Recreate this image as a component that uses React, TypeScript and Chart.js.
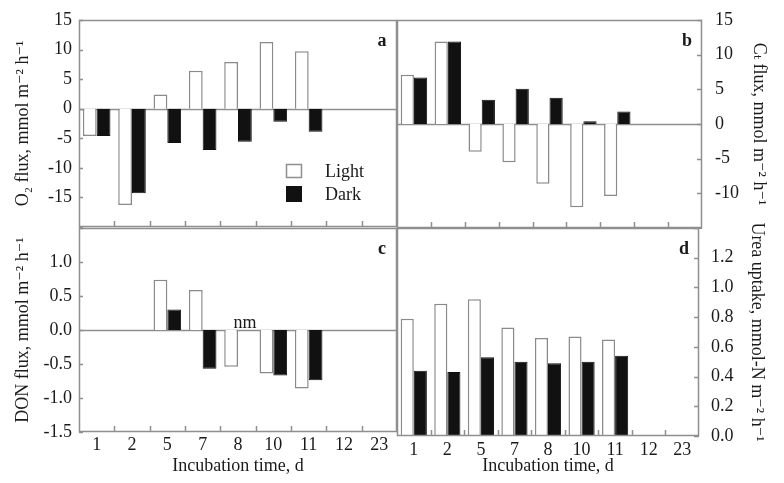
import React, { useEffect, useRef } from 'react';
import { Chart, registerables } from 'chart.js';

Chart.register(...registerables);

// ---- data ----
const days = ['1', '2', '5', '7', '8', '10', '11', '12', '23'];

const o2Light = [-4.6, -16.3, 2.4, 6.4, 7.9, 11.3, 9.7, null, null];
const o2Dark = [-4.6, -14.3, -5.8, -7.0, -5.6, -2.2, -3.9, null, null];

const ctLight = [7.1, 11.9, -4.0, -5.5, -8.6, -12.0, -10.4, null, null];
const ctDark = [6.7, 11.9, 3.5, 5.1, 3.8, 0.4, 1.8, null, null];

const donLight = [null, null, 0.74, 0.59, -0.54, -0.64, -0.86, null, null];
const donDark = [null, null, 0.3, -0.57, null, -0.67, -0.74, null, null];

const ureaLight = [0.79, 0.89, 0.92, 0.73, 0.66, 0.67, 0.65, null, null];
const ureaDark = [0.44, 0.43, 0.53, 0.5, 0.49, 0.5, 0.54, null, null];

const seriesNames = ['Light', 'Dark'];
const xTitle = 'Incubation time, d';

const FONT = "'Liberation Serif', 'DejaVu Serif', serif";
const LINE = '#8f8f8f';
const INK = '#1a1a1a';

type PanelProps = {
  box: { left: number; top: number; width: number; height: number };
  pad: { left: number; right: number; top: number; bottom: number };
  yPos: 'left' | 'right';
  yWidth: number;
  xHeight: number;
  showX: boolean;
  xPad: number;
  light: (number | null)[];
  dark: (number | null)[];
  yMin: number;
  yMax: number;
  yStep: number;
  hidden: number[];
  decimals: number;
  yTitle: string;
  yTitlePad: number;
  tickPad: number;
  letter: string;
  legend?: boolean;
  nmIndex?: number;
};

function Panel(p: PanelProps) {
  const ref = useRef<HTMLCanvasElement | null>(null);
  useEffect(() => {
    if (!ref.current) return;
    const overlay = {
      id: 'overlay',
      beforeDatasetsDraw(chart: any) {
        const { ctx, chartArea: a } = chart;
        const y = chart.scales.y;
        if (p.yMin < 0) {
          const zy = Math.round(y.getPixelForValue(0)) + 0.5;
          ctx.save();
          ctx.strokeStyle = LINE;
          ctx.lineWidth = 1.3;
          ctx.beginPath();
          ctx.moveTo(a.left, zy);
          ctx.lineTo(a.right, zy);
          ctx.stroke();
          ctx.restore();
        }
      },
      afterDraw(chart: any) {
        const { ctx, chartArea: a } = chart;
        const x = chart.scales.x;
        const y = chart.scales.y;
        ctx.save();
        ctx.strokeStyle = LINE;
        ctx.lineWidth = 1.5;
        ctx.strokeRect(a.left + 0.5, a.top + 0.5, a.right - a.left - 1, a.bottom - a.top - 1);
        // inner x ticks at category boundaries
        ctx.beginPath();
        for (let i = 0; i < days.length - 1; i++) {
          const bx = Math.round((x.getPixelForValue(i) + x.getPixelForValue(i + 1)) / 2) + 0.5;
          ctx.moveTo(bx, a.bottom);
          ctx.lineTo(bx, a.bottom - 6);
        }
        // inner y ticks
        y.ticks.forEach((t: any) => {
          const ty = Math.round(y.getPixelForValue(t.value)) + 0.5;
          if (p.yPos === 'left') {
            ctx.moveTo(a.left, ty);
            ctx.lineTo(a.left + 4, ty);
          } else {
            ctx.moveTo(a.right, ty);
            ctx.lineTo(a.right - 5, ty);
          }
        });
        ctx.stroke();
        // panel letter
        ctx.fillStyle = INK;
        ctx.font = `bold 18px ${FONT}`;
        ctx.textAlign = 'center';
        ctx.textBaseline = 'middle';
        ctx.fillText(p.letter, a.right - 15, a.top + 21);
        // legend
        if (p.legend) {
          const lx = a.left + 207;
          ctx.lineWidth = 1.5;
          ctx.fillStyle = '#fff';
          ctx.fillRect(lx, a.top + 144, 16, 14);
          ctx.strokeStyle = LINE;
          ctx.strokeRect(lx + 0.5, a.top + 144.5, 15, 13);
          ctx.fillStyle = '#111';
          ctx.fillRect(lx, a.top + 166, 16, 16);
          ctx.fillStyle = INK;
          ctx.font = `18px ${FONT}`;
          ctx.textAlign = 'left';
          ctx.fillText(seriesNames[0], lx + 39, a.top + 152);
          ctx.fillText(seriesNames[1], lx + 39, a.top + 175);
        }
        // not measured marker
        if (p.nmIndex !== undefined) {
          const cw = x.width / days.length;
          const nx = x.getPixelForValue(p.nmIndex) + cw * 0.78 / 4;
          ctx.fillStyle = INK;
          ctx.font = `18px ${FONT}`;
          ctx.textAlign = 'center';
          ctx.textBaseline = 'middle';
          ctx.fillText('nm', nx, y.getPixelForValue(0) - 7);
        }
        ctx.restore();
      },
    };

    const fmt = (v: number) => {
      if (p.hidden.some((h) => Math.abs(h - v) < 1e-6)) return '';
      return (Math.abs(v) < 1e-9 ? 0 : v).toFixed(p.decimals);
    };

    const chart = new Chart(ref.current, {
      type: 'bar',
      data: {
        labels: days,
        datasets: [
          {
            label: seriesNames[0],
            data: p.light,
            backgroundColor: '#ffffff',
            borderColor: '#8a8a8a',
            borderWidth: 1.5,
            categoryPercentage: 0.78,
            barPercentage: 1.0,
          },
          {
            label: seriesNames[1],
            data: p.dark,
            backgroundColor: '#111111',
            borderColor: '#111111',
            borderWidth: 1,
            categoryPercentage: 0.78,
            barPercentage: 1.0,
          },
        ],
      },
      options: {
        responsive: false,
        animation: false,
        devicePixelRatio: 1,
        events: [],
        layout: { padding: p.pad },
        plugins: {
          legend: { display: false },
          tooltip: { enabled: false },
          title: { display: false },
        },
        scales: {
          x: {
            type: 'category',
            display: p.showX,
            offset: true,
            grid: { display: false, drawTicks: false },
            border: { display: false },
            ticks: {
              autoSkip: false,
              maxRotation: 0,
              padding: p.xPad,
              color: INK,
              font: { family: FONT, size: 18 },
            },
            title: {
              display: p.showX,
              text: xTitle,
              color: INK,
              font: { family: FONT, size: 18 },
              padding: { top: 0, bottom: 6 },
            },
            afterFit: (s: any) => {
              s.height = p.xHeight;
              s.paddingLeft = 0;
              s.paddingRight = 0;
              s.paddingTop = 0;
              s.paddingBottom = 0;
            },
          },
          y: {
            position: p.yPos,
            min: p.yMin,
            max: p.yMax,
            grid: { display: false, drawTicks: false },
            border: { display: false },
            ticks: {
              stepSize: p.yStep,
              padding: p.tickPad,
              color: INK,
              font: { family: FONT, size: 18 },
              callback: (v: any) => fmt(Number(v)),
            },
            title: {
              display: true,
              text: p.yTitle,
              color: INK,
              font: { family: FONT, size: 18 },
              padding: { top: p.yTitlePad, bottom: 0 },
            },
            afterFit: (s: any) => {
              s.width = p.yWidth;
              s.paddingTop = 0;
              s.paddingBottom = 0;
              s.paddingLeft = 0;
              s.paddingRight = 0;
            },
          },
        },
      },
      plugins: [overlay],
    } as any);
    return () => chart.destroy();
  }, []);

  return (
    <canvas
      ref={ref}
      width={p.box.width}
      height={p.box.height}
      style={{
        position: 'absolute',
        left: p.box.left,
        top: p.box.top,
        width: p.box.width,
        height: p.box.height,
      }}
    />
  );
}

export default function App() {
  return (
    <div
      style={{
        position: 'absolute',
        left: 0,
        top: 0,
        width: 784,
        height: 483,
        background: '#ffffff',
        overflow: 'hidden',
      }}
    >
      <Panel
        box={{ left: 0, top: 0, width: 398, height: 228 }}
        pad={{ left: 0, right: 1, top: 20, bottom: 1 }}
        yPos="left"
        yWidth={79}
        xHeight={0}
        showX={false}
        xPad={2}
        light={o2Light}
        dark={o2Dark}
        yMin={-20}
        yMax={15}
        yStep={5}
        hidden={[-20]}
        decimals={0}
        yTitle="O₂ flux, mmol m⁻² h⁻¹"
        yTitlePad={12}
        tickPad={7}
        letter="a"
        legend
      />
      <Panel
        box={{ left: 396, top: 0, width: 388, height: 229 }}
        pad={{ left: 1, right: 0, top: 20, bottom: 1 }}
        yPos="right"
        yWidth={82}
        xHeight={0}
        showX={false}
        xPad={2}
        light={ctLight}
        dark={ctDark}
        yMin={-15}
        yMax={15}
        yStep={5}
        hidden={[-15]}
        decimals={0}
        yTitle="Cₜ flux, mmol m⁻² h⁻¹"
        yTitlePad={14}
        tickPad={13}
        letter="b"
      />
      <Panel
        box={{ left: 0, top: 227, width: 398, height: 256 }}
        pad={{ left: 0, right: 1, top: 1, bottom: 0 }}
        yPos="left"
        yWidth={79}
        xHeight={51}
        showX={true}
        xPad={2}
        light={donLight}
        dark={donDark}
        yMin={-1.5}
        yMax={1.5}
        yStep={0.5}
        hidden={[1.5]}
        decimals={1}
        yTitle="DON flux, mmol m⁻² h⁻¹"
        yTitlePad={12}
        tickPad={7}
        letter="c"
        nmIndex={4}
      />
      <Panel
        box={{ left: 396, top: 200, width: 388, height: 283 }}
        pad={{ left: 1, right: 0, top: 28, bottom: 0 }}
        yPos="right"
        yWidth={85}
        xHeight={47}
        showX={true}
        xPad={3}
        light={ureaLight}
        dark={ureaDark}
        yMin={0}
        yMax={1.4}
        yStep={0.2}
        hidden={[1.4]}
        decimals={1}
        yTitle="Urea uptake, mmol-N m⁻² h⁻¹"
        yTitlePad={16}
        tickPad={12}
        letter="d"
      />
    </div>
  );
}
